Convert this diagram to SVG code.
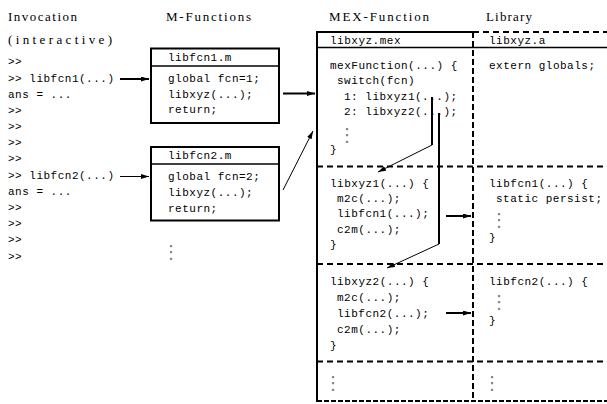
<svg xmlns="http://www.w3.org/2000/svg" width="607" height="404" viewBox="0 0 607 404">
<style>
.m{font-family:"Liberation Mono",monospace;font-size:11px;letter-spacing:0.5px;fill:#000}
.s{font-family:"Liberation Serif",serif;font-size:13px;fill:#000}
.vd{font-family:"DejaVu Sans",sans-serif;font-size:18px;fill:#7a7a7a;text-anchor:middle}
.box{fill:#fff;stroke:#000;stroke-width:2}
.sep{stroke:#000;stroke-width:1.4}
.solid{stroke:#000;stroke-width:2;fill:none}
.dash{stroke:#000;stroke-width:2;stroke-dasharray:6 4;fill:none}
.thick{stroke:#000;stroke-width:2;fill:none}
.thin{stroke:#000;stroke-width:1;fill:none}
</style>
<defs>
<marker id="ah" markerUnits="userSpaceOnUse" markerWidth="9" markerHeight="6" refX="8" refY="2.5" orient="auto">
<path d="M0,0 L8,2.5 L0,5 z" fill="#000"/>
</marker>
</defs>
<rect width="607" height="404" fill="#fff"/>

<g id="headers">
<text class="s" x="8" y="21" textLength="69" lengthAdjust="spacing">Invocation</text>
<text class="s" x="8" y="44" textLength="104" lengthAdjust="spacing">(interactive)</text>
<text class="s" x="166" y="21" textLength="85" lengthAdjust="spacing">M-Functions</text>
<text class="s" x="329" y="21" textLength="100" lengthAdjust="spacing">MEX-Function</text>
<text class="s" x="486" y="21" textLength="46" lengthAdjust="spacing">Library</text>
</g>

<g id="invocation">
<text class="m" x="8" y="65">&gt;&gt;</text>
<text class="m" x="8" y="81.5">&gt;&gt; libfcn1(...)</text>
<text class="m" x="8" y="97.5">ans = ...</text>
<text class="m" x="8" y="113.5">&gt;&gt;</text>
<text class="m" x="8" y="129.5">&gt;&gt;</text>
<text class="m" x="8" y="146">&gt;&gt;</text>
<text class="m" x="8" y="162">&gt;&gt;</text>
<text class="m" x="8" y="178.5">&gt;&gt; libfcn2(...)</text>
<text class="m" x="8" y="194.5">ans = ...</text>
<text class="m" x="8" y="211">&gt;&gt;</text>
<text class="m" x="8" y="227">&gt;&gt;</text>
<text class="m" x="8" y="243">&gt;&gt;</text>
<text class="m" x="8" y="259.5">&gt;&gt;</text>
</g>

<g id="mfcn1">
<rect class="box" x="151" y="48.5" width="128" height="74.5"/>
<line class="sep" x1="151" y1="66" x2="279" y2="66"/>
<text class="m" x="168" y="61">libfcn1.m</text>
<text class="m" x="168" y="82">global fcn=1;</text>
<text class="m" x="168" y="97.5">libxyz(...);</text>
<text class="m" x="168" y="113">return;</text>
</g>

<g id="mfcn2">
<rect class="box" x="151" y="147" width="128" height="73.5"/>
<line class="sep" x1="151" y1="164" x2="279" y2="164"/>
<text class="m" x="168" y="158.5">libfcn2.m</text>
<text class="m" x="168" y="179.5">global fcn=2;</text>
<text class="m" x="168" y="195.5">libxyz(...);</text>
<text class="m" x="168" y="211.5">return;</text>
</g>
<text id="mfcn-more" class="vd" x="171" y="258">⋮</text>

<g id="table">
<line class="solid" x1="316" y1="32" x2="473" y2="32"/>
<line class="dash" x1="473" y1="32" x2="607" y2="32"/>
<line class="solid" x1="317" y1="31" x2="317" y2="402"/>
<line class="sep" x1="317" y1="47.5" x2="607" y2="47.5"/>
<line class="dash" x1="473" y1="32" x2="473" y2="401" style="stroke-dasharray:6 3"/>
<line class="dash" x1="317" y1="166.5" x2="607" y2="166.5"/>
<line class="dash" x1="317" y1="264" x2="607" y2="264"/>
<line class="dash" x1="317" y1="361.5" x2="607" y2="361.5"/>
<line class="dash" x1="317" y1="401" x2="607" y2="401" style="stroke-dasharray:5 2"/>
</g>

<g id="mex-header">
<text class="m" x="330" y="43.5">libxyz.mex</text>
</g>
<g id="mexFunction">
<text class="m" x="330" y="68.5">mexFunction(...) {</text>
<text class="m" x="337" y="84">switch(fcn)</text>
<text class="m" x="344" y="99.5">1: libxyz1(...);</text>
<text class="m" x="344" y="115">2: libxyz2(...);</text>
<text class="vd" x="347" y="141">⋮</text>
<text class="m" x="330" y="153">}</text>
</g>
<g id="libxyz1">
<text class="m" x="330" y="186.5">libxyz1(...) {</text>
<text class="m" x="337" y="202">m2c(...);</text>
<text class="m" x="337" y="217">libfcn1(...);</text>
<text class="m" x="337" y="232.5">c2m(...);</text>
<text class="m" x="330" y="248">}</text>
</g>
<g id="libxyz2">
<text class="m" x="330" y="285">libxyz2(...) {</text>
<text class="m" x="337" y="300.5">m2c(...);</text>
<text class="m" x="337" y="316.5">libfcn2(...);</text>
<text class="m" x="337" y="332.5">c2m(...);</text>
<text class="m" x="330" y="349">}</text>
</g>
<text id="mex-more" class="vd" x="333" y="389">⋮</text>

<g id="lib-header">
<text class="m" x="489" y="43.5">libxyz.a</text>
</g>
<g id="lib-globals">
<text class="m" x="489" y="68.5">extern globals;</text>
</g>
<g id="libfcn1">
<text class="m" x="489" y="186.5">libfcn1(...) {</text>
<text class="m" x="496" y="202">static persist;</text>
<text class="vd" x="499" y="226">⋮</text>
<text class="m" x="489" y="241">}</text>
</g>
<g id="libfcn2">
<text class="m" x="489" y="285">libfcn2(...) {</text>
<text class="vd" x="499" y="308">⋮</text>
<text class="m" x="489" y="323.5">}</text>
</g>
<text id="lib-more" class="vd" x="492" y="389">⋮</text>

<g id="connectors">
<line class="thick" x1="120" y1="79" x2="149" y2="79" marker-end="url(#ah)"/>
<line class="thin" x1="120" y1="176.5" x2="149" y2="176.5" marker-end="url(#ah)"/>
<line class="thick" x1="283" y1="93.5" x2="315" y2="93.5" marker-end="url(#ah)"/>
<line class="thin" x1="283" y1="190" x2="313" y2="131" marker-end="url(#ah)"/>
<polyline class="thick" points="432,97 432,145"/>
<line class="thin" x1="432" y1="145" x2="378" y2="172" marker-end="url(#ah)"/>
<polyline class="thick" points="439,113 439,244"/>
<line class="thin" x1="439" y1="244" x2="387" y2="268" marker-end="url(#ah)"/>
<line class="thick" x1="446" y1="216" x2="471" y2="216" marker-end="url(#ah)"/>
<line class="thick" x1="446" y1="313" x2="471" y2="313" marker-end="url(#ah)"/>
</g>
</svg>
